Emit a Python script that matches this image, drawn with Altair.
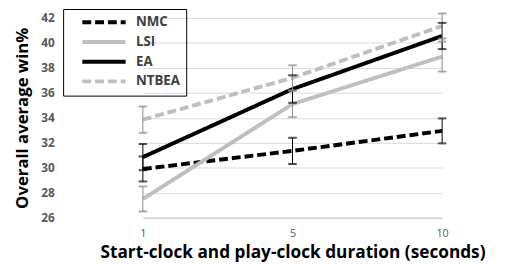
import altair as alt
import pandas as pd

durations = ["1", "5", "10"]
series = ["NMC", "LSI", "EA", "NTBEA"]
nmc = [29.9, 31.35, 32.95]
lsi = [27.5, 35.1, 38.9]
ea = [30.85, 36.3, 40.55]
ntbea = [33.85, 37.2, 41.35]
nmc_err = [1.0, 1.05, 1.0]
lsi_err = [1.0, 1.05, 1.2]
ea_err = [1.05, 1.1, 1.05]
ntbea_err = [1.05, 1.0, 1.0]

rows = []
for name, vals, errs in [("NMC", nmc, nmc_err), ("LSI", lsi, lsi_err),
                         ("EA", ea, ea_err), ("NTBEA", ntbea, ntbea_err)]:
    for i, (d, v, e) in enumerate(zip(durations, vals, errs)):
        rows.append({"dur": d, "idx": i, "series": name, "win": v, "lo": v - e, "hi": v + e})
df = pd.DataFrame(rows)

line_colors = ["#000000", "#bfbfbf", "#000000", "#bfbfbf"]
err_colors = ["#000000", "#8c8c8c", "#000000", "#8c8c8c"]
dashes = [[9, 4], [1, 0], [1, 0], [9, 4]]
FONT = "Open Sans"

x = alt.X("dur:N", sort=durations,
          scale=alt.Scale(type="point", range=[76, 380], padding=0),
          axis=alt.Axis(title="Start-clock and play-clock duration (seconds)",
                        labelAngle=0, ticks=False, labelPadding=10,
                        labelColor="#595959", labelFontSize=11, labelFont=FONT,
                        domainColor="#d9d9d9", domainWidth=2,
                        titleFont=FONT, titleFontSize=17.5, titleFontWeight="bold",
                        titleColor="#000000", titleY=40, titleBaseline="alphabetic"))
yaxis = alt.Axis(title="Overall average win%", values=list(range(26, 43, 2)),
                 ticks=False, domain=False, labelPadding=14, labelOverlap=False,
                 labelColor="#595959", labelFontSize=12, labelFontWeight="bold",
                 labelFont=FONT, gridColor="#d9d9d9", gridWidth=1,
                 titleFont=FONT, titleFontSize=17, titleFontWeight="bold",
                 titleColor="#000000", titlePadding=9)
yscale = alt.Scale(domain=[26, 42], nice=False, zero=False)

leg = alt.Legend(title=None, orient="none", legendX=-5, legendY=-9,
                 symbolType="M-4,0H4", symbolSize=121, symbolOffset=28,
                 symbolStrokeWidth=4, labelFont=FONT,
                 labelFontSize=13.5, labelFontWeight="bold",
                 labelColor="#404040", labelOffset=25,
                 rowPadding=3, padding=6,
                 strokeColor="#000000")

base = alt.Chart(df)
lines = base.mark_line(strokeWidth=4).encode(
    x=x, y=alt.Y("win:Q", scale=yscale, axis=yaxis),
    color=alt.Color("series:N", sort=series,
                    scale=alt.Scale(domain=series, range=line_colors), legend=leg),
    strokeDash=alt.StrokeDash("series:N", sort=series,
                              scale=alt.Scale(domain=series, range=dashes), legend=leg),
    order=alt.Order("idx:Q"),
)
err_stroke = alt.Stroke("series:N", scale=alt.Scale(domain=series, range=err_colors), legend=None)
rules = base.mark_rule(strokeWidth=1).encode(
    x=x, y=alt.Y("lo:Q", scale=yscale, axis=yaxis), y2="hi:Q", stroke=err_stroke)
caps_lo = base.mark_tick(thickness=1, size=8).encode(
    x=x, y=alt.Y("lo:Q", scale=yscale, axis=yaxis), stroke=err_stroke)
caps_hi = base.mark_tick(thickness=1, size=8).encode(
    x=x, y=alt.Y("hi:Q", scale=yscale, axis=yaxis), stroke=err_stroke)

chart = alt.layer(lines, rules, caps_lo, caps_hi).properties(
    width=451, height=203,
    autosize=alt.AutoSizeParams(type="none"),
    padding={"left": 61, "top": 8, "right": 2, "bottom": 45},
).configure_view(stroke=None).configure_tick(fill=None)

chart.save("out.html", embed_options={"renderer": "svg", "actions": False})
